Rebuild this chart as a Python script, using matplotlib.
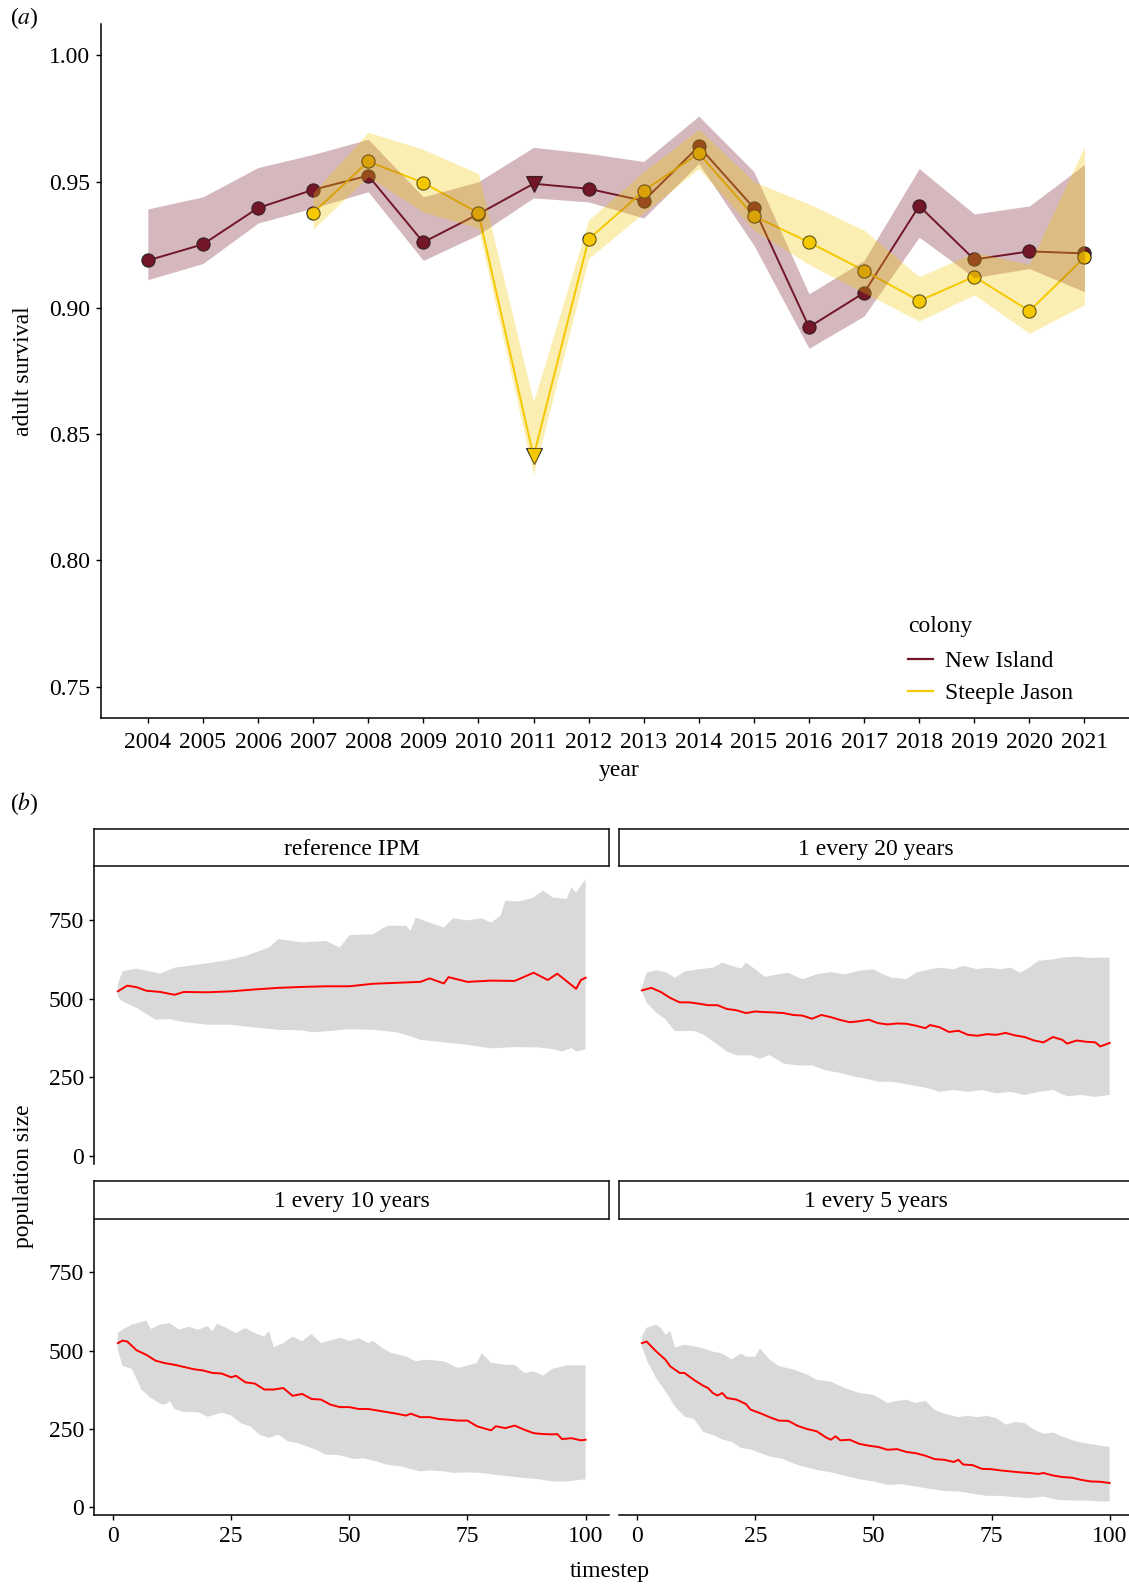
import matplotlib

matplotlib.use("Agg")
import matplotlib.pyplot as plt
import numpy as np
from matplotlib.lines import Line2D


OUTPUT_FILE = "out.png"
FIG_W, FIG_H = 1129, 1584

# ---- panel (a): adult survival per colony ----
YEARS = [2004, 2005, 2006, 2007, 2008, 2009, 2010, 2011, 2012,
         2013, 2014, 2015, 2016, 2017, 2018, 2019, 2020, 2021]

new_island_mean = [0.9188, 0.9252, 0.9396, 0.9468, 0.9524, 0.9260, 0.9372, 0.9492, 0.9472,
                   0.9424, 0.9640, 0.9396, 0.8924, 0.9060, 0.9404, 0.9192, 0.9224, 0.9216]
new_island_low = [0.9112, 0.9176, 0.9336, 0.9396, 0.9460, 0.9188, 0.9290, 0.9436, 0.9420,
                  0.9356, 0.9572, 0.9248, 0.8840, 0.8968, 0.9280, 0.9120, 0.9156, 0.9064]
new_island_high = [0.9392, 0.9440, 0.9556, 0.9608, 0.9668, 0.9440, 0.9500, 0.9636, 0.9612,
                   0.9580, 0.9760, 0.9540, 0.9056, 0.9188, 0.9552, 0.9372, 0.9404, 0.9568]

SJ_YEARS = [2007, 2008, 2009, 2010, 2011, 2012, 2013, 2014,
            2015, 2016, 2017, 2018, 2019, 2020, 2021]
steeple_mean = [0.9376, 0.9580, 0.9496, 0.9376, 0.8412, 0.9272, 0.9464, 0.9612,
                0.9364, 0.9260, 0.9148, 0.9028, 0.9124, 0.8988, 0.9200]
steeple_low = [0.9312, 0.9520, 0.9380, 0.9316, 0.8340, 0.9196, 0.9376, 0.9552,
               0.9308, 0.9172, 0.9060, 0.8948, 0.9052, 0.8900, 0.9012]
steeple_high = [0.9456, 0.9696, 0.9628, 0.9532, 0.8628, 0.9348, 0.9540, 0.9708,
                0.9500, 0.9412, 0.9308, 0.9124, 0.9220, 0.9172, 0.9640]

TRIANGLE_YEAR = 2011

# ---- panel (b): projected population size, four scenarios ----
FACET_TITLES = ["reference IPM", "1 every 20 years", "1 every 10 years", "1 every 5 years"]

ref_med_t = [1, 3, 5, 7, 10, 13, 15, 20, 25, 30, 35, 40, 45, 50, 55, 60, 65, 67, 70, 71,
             75, 80, 85, 89, 92, 94, 96, 98, 99, 100]
ref_med = [523, 541, 536, 525, 521, 512, 521, 520, 523, 529, 534, 537, 539, 539, 547, 550, 553, 564, 548, 568,
           553, 557, 556, 582, 559, 579, 555, 531, 559, 566]
ref_up_t = [1, 2, 5, 10, 13, 20, 25, 28, 33, 35, 40, 45, 48, 50, 55, 58, 62, 63, 64, 67,
            70, 72, 75, 78, 80, 82, 83, 86, 89, 91, 93, 96, 97, 98, 100]
ref_up = [545, 587, 595, 579, 598, 612, 624, 635, 662, 689, 678, 683, 662, 701, 704, 731, 731, 715, 757, 741,
          726, 755, 748, 755, 741, 763, 811, 808, 821, 843, 821, 816, 853, 837, 878]
ref_lo_t = [1, 2, 5, 9, 12, 15, 20, 25, 30, 35, 40, 42, 45, 50, 55, 60, 63, 65, 70, 75,
            80, 85, 90, 93, 95, 97, 98, 100]
ref_lo = [505, 491, 470, 433, 435, 425, 417, 417, 408, 401, 399, 393, 396, 403, 401, 393, 380, 369, 361, 353,
          342, 346, 345, 340, 332, 343, 332, 339]

e20_med_t = [1, 3, 5, 7, 9, 11, 13, 15, 17, 19, 21, 23, 25, 27, 29, 31, 33, 35, 37, 39,
             41, 43, 45, 47, 49, 51, 53, 55, 57, 59, 61, 62, 64, 66, 68, 70, 72, 74, 76, 78,
             80, 82, 84, 86, 88, 90, 91, 93, 95, 97, 98, 100]
e20_med = [526, 534, 521, 502, 488, 488, 484, 479, 479, 467, 463, 454, 459, 457, 456, 454, 448, 446, 436, 448,
           441, 432, 425, 428, 433, 422, 418, 421, 420, 414, 406, 416, 409, 394, 398, 385, 382, 387, 385, 391,
           383, 378, 367, 361, 378, 369, 357, 367, 363, 361, 348, 359]
e20_up_t = [1, 2, 4, 6, 8, 10, 13, 16, 18, 20, 22, 23, 25, 27, 30, 32, 35, 38, 41, 44,
            47, 50, 52, 54, 57, 59, 62, 64, 67, 69, 72, 74, 77, 79, 81, 83, 85, 88, 90, 93,
            96, 100]
e20_up = [534, 582, 590, 584, 566, 586, 593, 598, 614, 604, 595, 614, 593, 569, 577, 582, 561, 577, 584, 577,
          588, 593, 577, 566, 562, 582, 593, 598, 593, 604, 593, 598, 593, 598, 582, 598, 620, 624, 630, 633,
          629, 630]
e20_lo_t = [1, 2, 4, 6, 8, 10, 12, 14, 17, 19, 21, 24, 26, 28, 31, 34, 37, 40, 43, 46,
            49, 51, 54, 57, 60, 62, 64, 67, 70, 73, 76, 79, 82, 85, 88, 91, 94, 97, 100]
e20_lo = [523, 487, 456, 434, 397, 397, 397, 386, 354, 332, 320, 320, 309, 321, 294, 288, 288, 272, 264, 252,
          244, 236, 236, 228, 220, 214, 204, 210, 204, 210, 199, 204, 194, 204, 210, 190, 194, 188, 194]

e10_med_t = [1, 2, 3, 5, 7, 9, 11, 13, 15, 17, 19, 21, 23, 25, 26, 28, 30, 32, 34, 36,
             38, 40, 42, 44, 46, 48, 50, 52, 54, 56, 58, 60, 62, 63, 65, 67, 69, 71, 73, 75,
             77, 79, 80, 81, 83, 85, 87, 89, 91, 93, 94, 95, 97, 99, 100]
e10_med = [524, 532, 529, 501, 487, 468, 460, 455, 448, 441, 437, 429, 427, 415, 420, 399, 395, 376, 376, 381,
           356, 362, 346, 344, 328, 320, 320, 314, 314, 309, 304, 299, 293, 299, 288, 288, 282, 280, 277, 277,
           259, 250, 246, 259, 253, 261, 248, 237, 234, 233, 234, 218, 221, 214, 216]
e10_up_t = [1, 2, 4, 7, 8, 10, 12, 14, 16, 18, 20, 21, 22, 24, 26, 28, 30, 32, 33, 34,
            36, 38, 40, 42, 44, 46, 48, 50, 52, 54, 55, 57, 59, 62, 64, 66, 68, 70, 73, 75,
            77, 78, 80, 83, 85, 87, 89, 91, 93, 96, 100]
e10_up = [556, 567, 583, 596, 569, 583, 588, 567, 576, 567, 578, 562, 586, 572, 556, 572, 556, 545, 562, 511,
          524, 545, 530, 553, 524, 532, 541, 531, 540, 524, 531, 508, 492, 482, 466, 471, 469, 466, 445, 452,
          461, 492, 461, 455, 455, 429, 434, 420, 442, 453, 453]
e10_lo_t = [1, 2, 4, 6, 8, 10, 11, 12, 13, 15, 18, 20, 23, 25, 27, 29, 31, 33, 35, 37,
            39, 41, 43, 45, 47, 49, 51, 53, 56, 58, 61, 63, 65, 67, 70, 72, 75, 78, 81, 84,
            87, 90, 93, 96, 100]
e10_lo = [503, 452, 441, 376, 349, 331, 328, 339, 314, 304, 304, 289, 302, 293, 269, 259, 232, 222, 232, 211,
          205, 195, 184, 168, 168, 163, 154, 157, 146, 136, 131, 122, 115, 118, 115, 110, 112, 110, 104, 99,
          94, 90, 83, 83, 90]

e5_med_t = [1, 2, 4, 6, 7, 9, 10, 12, 14, 15, 16, 17, 18, 19, 21, 23, 24, 26, 28, 30,
            32, 34, 36, 38, 40, 41, 42, 43, 45, 47, 49, 51, 53, 55, 57, 59, 61, 63, 65, 67,
            68, 69, 71, 73, 75, 77, 79, 81, 83, 85, 86, 88, 90, 92, 94, 96, 98, 100]
e5_med = [524, 529, 498, 471, 450, 429, 429, 407, 388, 381, 365, 357, 365, 349, 344, 330, 312, 301, 288, 277,
          276, 260, 250, 243, 223, 216, 227, 214, 216, 203, 197, 193, 184, 186, 177, 173, 165, 154, 152, 145,
          152, 137, 135, 123, 122, 118, 115, 112, 110, 107, 110, 102, 97, 95, 88, 83, 82, 78]
e5_up_t = [1, 2, 4, 5, 6, 7, 8, 10, 12, 14, 16, 18, 20, 22, 23, 25, 26, 28, 30, 33,
           36, 38, 41, 44, 47, 50, 53, 55, 57, 59, 61, 63, 65, 68, 70, 72, 74, 76, 78, 80,
           82, 84, 86, 88, 90, 93, 96, 100]
e5_up = [546, 573, 583, 573, 551, 562, 510, 519, 514, 507, 497, 491, 472, 491, 481, 481, 507, 472, 451, 440,
         424, 407, 401, 380, 365, 359, 333, 340, 343, 333, 340, 311, 299, 288, 292, 288, 292, 285, 264, 273,
         269, 248, 235, 239, 226, 210, 202, 193]
e5_lo_t = [1, 2, 4, 6, 8, 10, 12, 14, 16, 18, 20, 22, 24, 26, 28, 31, 33, 35, 38, 41,
           44, 47, 50, 53, 56, 59, 62, 65, 68, 71, 74, 77, 80, 83, 86, 89, 92, 95, 98, 100]
e5_lo = [514, 471, 413, 370, 322, 290, 282, 241, 231, 217, 209, 190, 185, 174, 163, 154, 141, 131, 120, 112,
         101, 90, 83, 72, 74, 67, 59, 53, 51, 44, 37, 37, 33, 30, 35, 24, 22, 22, 19, 19]

NI_COLOR = "#721628"
SJ_COLOR = "#F5C800"
BAND_GREY = "#D9D9D9"
FS = 17


def rect(left, top, right, bottom):
    """pixel box -> figure fraction [l, b, w, h]"""
    return [left / FIG_W, 1 - bottom / FIG_H, (right - left) / FIG_W, (bottom - top) / FIG_H]


def style_axes(ax, show_x=True, show_y=True):
    for side in ("top", "right"):
        ax.spines[side].set_visible(False)
    ax.spines["left"].set_visible(show_y)
    ax.spines["bottom"].set_visible(show_x)
    for side in ("left", "bottom"):
        ax.spines[side].set_linewidth(1.1)
    ax.tick_params(length=3.6, width=1.0, labelsize=FS, pad=4)
    if not show_x:
        ax.tick_params(axis="x", bottom=False, labelbottom=False)
    if not show_y:
        ax.tick_params(axis="y", left=False, labelleft=False)


def draw_colony(ax, years, mean, color):
    ax.plot(years, mean, color=color, lw=1.4, zorder=2)
    circ = [i for i, y in enumerate(years) if y != TRIANGLE_YEAR]
    tri = [i for i, y in enumerate(years) if y == TRIANGLE_YEAR]
    ax.plot([years[i] for i in circ], [mean[i] for i in circ], "o", ms=9.5,
            mfc=color, mec="#222222", mew=0.8, zorder=3)
    ax.plot([years[i] for i in tri], [mean[i] for i in tri], "v", ms=11,
            mfc=color, mec="#222222", mew=0.8, zorder=3)


def build_panel_a(fig):
    ax = fig.add_axes(rect(101, 23.9, 1131.3, 718.2))
    draw_colony(ax, YEARS, new_island_mean, NI_COLOR)
    draw_colony(ax, SJ_YEARS, steeple_mean, SJ_COLOR)
    ax.fill_between(YEARS, new_island_low, new_island_high, color=NI_COLOR, alpha=0.3, lw=0, zorder=4)
    ax.fill_between(SJ_YEARS, steeple_low, steeple_high, color=SJ_COLOR, alpha=0.3, lw=0, zorder=4)

    ax.set_xlim(2003.15, 2021.85)
    ax.set_ylim(0.7375, 1.0125)
    ax.set_xticks(YEARS)
    ax.set_yticks([0.75, 0.80, 0.85, 0.90, 0.95, 1.00])
    ax.set_yticklabels([f"{v:.2f}" for v in [0.75, 0.80, 0.85, 0.90, 0.95, 1.00]])
    style_axes(ax)
    ax.tick_params(axis="x", pad=6)

    handles = [Line2D([], [], color=NI_COLOR, lw=1.6), Line2D([], [], color=SJ_COLOR, lw=1.6)]
    leg = ax.legend(handles, ["New Island", "Steeple Jason"], title="colony",
                    loc="upper left", bbox_to_anchor=(908 / FIG_W, 1 - 616 / FIG_H),
                    bbox_transform=fig.transFigure, frameon=False, fontsize=FS,
                    title_fontsize=FS, handlelength=1.05, handletextpad=0.5,
                    labelspacing=0.42, borderpad=0, borderaxespad=0, alignment="left")
    leg._legend_box.sep = 10
    leg.set_zorder(6)

    fig.text(10 / FIG_W, 1 - 18 / FIG_H, r"($\mathit{a}$)", fontsize=FS, va="center", ha="left")
    fig.text(24 / FIG_W, 1 - 371 / FIG_H, "adult survival", fontsize=FS, rotation=90,
             va="center", ha="center")
    fig.text(619 / FIG_W, 1 - 770 / FIG_H, "year", fontsize=FS, va="center", ha="center")


def draw_facet(fig, box, strip_box, title, series, show_x, show_y):
    ax = fig.add_axes(rect(*box))
    med_t, med, up_t, up, lo_t, lo = series
    ax.fill(np.r_[up_t, lo_t[::-1]], np.r_[up, lo[::-1]], color=BAND_GREY, lw=0, zorder=1)
    ax.plot(med_t, med, color="red", lw=1.4, zorder=2)
    ax.set_xlim(-3.95, 104.95)
    ax.set_ylim(-24, 921)
    ax.set_xticks([0, 25, 50, 75, 100])
    ax.set_yticks([0, 250, 500, 750])
    style_axes(ax, show_x, show_y)

    sax = fig.add_axes(rect(*strip_box))
    sax.set_xticks([])
    sax.set_yticks([])
    for sp in sax.spines.values():
        sp.set_linewidth(1.2)
        sp.set_color("#1a1a1a")
    sax.text(0.5, 0.45, title, transform=sax.transAxes, ha="center", va="center", fontsize=FS)


def build_panel_b(fig):
    facets = [
        (ref_med_t, ref_med, ref_up_t, ref_up, ref_lo_t, ref_lo),
        (e20_med_t, e20_med, e20_up_t, e20_up, e20_lo_t, e20_lo),
        (e10_med_t, e10_med, e10_up_t, e10_up, e10_lo_t, e10_lo),
        (e5_med_t, e5_med, e5_up_t, e5_up, e5_lo_t, e5_lo),
    ]
    cols = [(94.4, 609.0), (618.5, 1133.0)]
    rows = [((829.0, 865.9), (865.9, 1163.7)), ((1181.3, 1218.6), (1218.6, 1515.0))]

    for i, (title, series) in enumerate(zip(FACET_TITLES, facets)):
        r, c = divmod(i, 2)
        left, right = cols[c]
        (s_top, s_bot), (p_top, p_bot) = rows[r]
        draw_facet(fig, (left, p_top, right, p_bot), (left, s_top, right, s_bot),
                   title, series, show_x=(r == 1), show_y=(c == 0))

    fig.text(10 / FIG_W, 1 - 804 / FIG_H, r"($\mathit{b}$)", fontsize=FS, va="center", ha="left")
    fig.text(24 / FIG_W, 1 - 1176 / FIG_H, "population size", fontsize=FS, rotation=90,
             va="center", ha="center")
    fig.text(610 / FIG_W, 1 - 1572 / FIG_H, "timestep", fontsize=FS, va="center", ha="center")


def main() -> None:
    plt.rcParams["font.family"] = "Liberation Serif"
    plt.rcParams["mathtext.fontset"] = "stix"
    fig = plt.figure(figsize=(FIG_W / 100, FIG_H / 100), dpi=100)
    build_panel_a(fig)
    build_panel_b(fig)
    fig.savefig(OUTPUT_FILE, dpi=100, facecolor="white")
    plt.close(fig)


if __name__ == "__main__":
    main()
